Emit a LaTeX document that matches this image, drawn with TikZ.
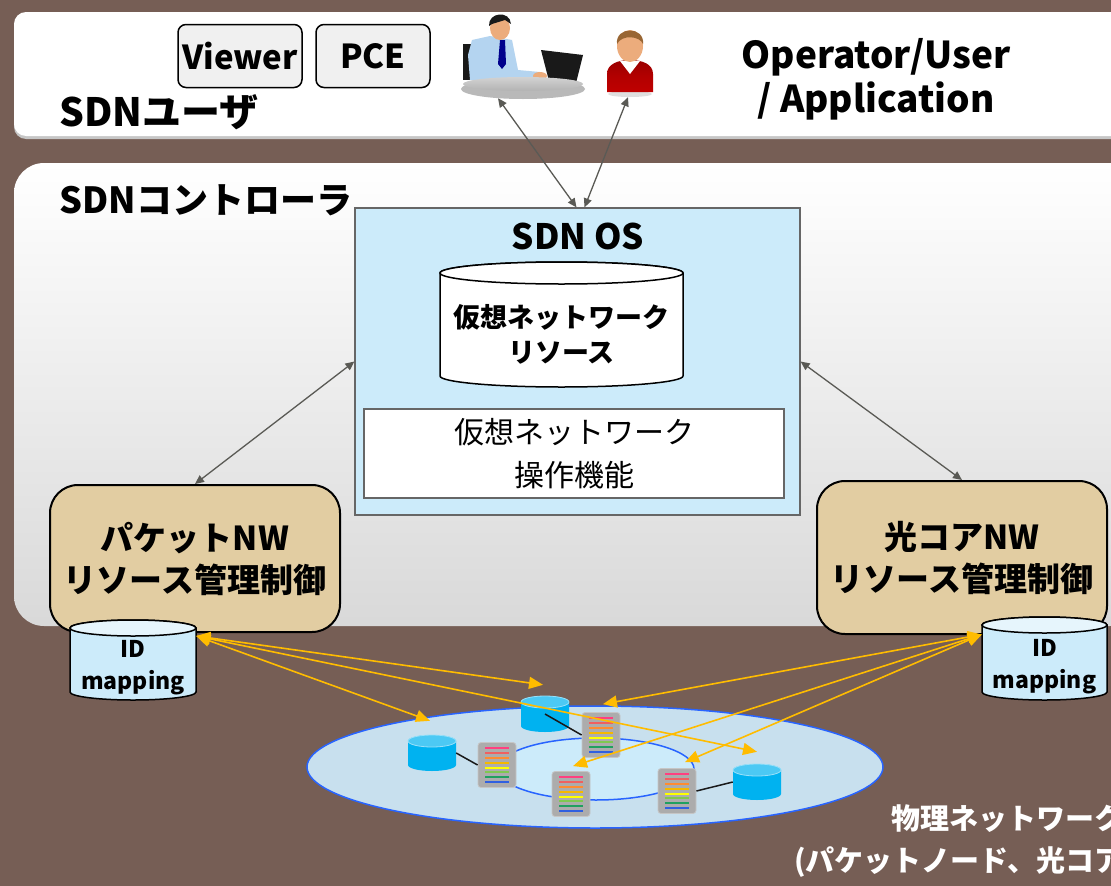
\documentclass[tikz,border=0pt]{standalone}
\usepackage{fontspec}
\setmainfont{Noto Sans CJK JP}
\usetikzlibrary{arrows.meta, positioning, calc}

\definecolor{bgbrown}{RGB}{118,94,85}
\definecolor{osblue}{RGB}{204,235,250}
\definecolor{ctltan}{RGB}{226,205,162}
\definecolor{dbblue}{RGB}{0,178,240}
\definecolor{linkgray}{RGB}{90,90,85}
\definecolor{nworange}{RGB}{255,188,0}
\definecolor{netblue}{RGB}{40,100,255}
\definecolor{netfill}{RGB}{200,224,238}
\definecolor{skin}{RGB}{236,172,124}
\definecolor{shirt}{RGB}{180,212,240}
\definecolor{rkpink}{RGB}{255,64,128}
\definecolor{rkred}{RGB}{240,96,96}
\definecolor{rkorange}{RGB}{255,140,48}
\definecolor{rkgold}{RGB}{245,184,0}
\definecolor{rkyellow}{RGB}{255,255,0}
\definecolor{rklime}{RGB}{128,200,80}
\definecolor{rkgreen}{RGB}{32,160,96}
\definecolor{rkblue}{RGB}{48,96,224}

% drum outline around a named node: node, half width, half height, cap radius, style
\newcommand\drawdrum[5]{%
  \path[#5] ([shift={(-#2,-#3+#4)}]#1.center) -- ([shift={(-#2,#3-#4)}]#1.center)
    arc[start angle=180, end angle=0, x radius=#2, y radius=#4]
    -- ([shift={(#2,-#3+#4)}]#1.center)
    arc[start angle=0, end angle=-180, x radius=#2, y radius=#4] -- cycle;
  \path[#5, #5 cap] ([shift={(0,-#3+#4)}]#1.center) ellipse (#2 and #4);
}

\tikzset{
  rack/.pic={
    \node[draw=gray!45, line width=0.8, fill=gray!65, rounded corners=3, minimum width=38, minimum height=45] (-box) {};
    \foreach \c [count=\i] in {rkpink,rkred,rkorange,rkgold,rkyellow,rklime,rkgreen,rkblue}
      \draw[\c, line width=2] (-12,-22+\i*4.9) -- (12,-22+\i*4.9);
  }
}

\begin{document}
\begin{tikzpicture}[x=1pt, y=-1pt,
    btnbox/.style={draw, line width=1.5, rounded corners=8, fill=gray!12,
      minimum height=63, font=\bfseries\fontsize{33}{36}\selectfont},
    ctlbox/.style={draw, line width=2, rounded corners=28, fill=ctltan,
      minimum width=290, align=center, font=\bfseries\fontsize{33}{42}\selectfont},
    drumbox/.style={inner sep=0pt, draw=none},
    iddrum/.style={draw, line width=1.5, fill=osblue},
    iddrum cap/.style={fill=osblue!50!white},
    resdrum/.style={draw, line width=1.5, fill=white},
    resdrum cap/.style={},
    dbdrum/.style={fill=dbblue},
    dbdrum cap/.style={fill=dbblue!70!white, draw=dbblue!40!white, line width=0.8},
    idtext/.style={align=center, font=\bfseries\fontsize{23}{32}\selectfont},
    ctllink/.style={{Triangle[length=9pt,width=8pt]}-{Triangle[length=9pt,width=8pt]},
      draw=linkgray, line width=1.3},
    nwlink/.style={{Triangle[length=14pt,width=12pt]}-{Triangle[length=14pt,width=12pt]},
      draw=nworange, line width=1.6}]

  \useasboundingbox (0,0) rectangle (1111,886);
  \clip (0,0) rectangle (1111,886);
  \fill[bgbrown] (0,0) rectangle (1111,886);

  % layers
  \fill[gray!45, rounded corners=12] (14,14) rectangle (1140,139);
  \fill[white, rounded corners=12] (14,12) rectangle (1140,136);
  \shade[top color=white, bottom color=gray!30, rounded corners=30] (14,163) rectangle (1140,626);

  % SDN user layer
  \node[anchor=west, font=\bfseries\fontsize{39}{40}\selectfont] (userlbl) at (56,112) {SDNユーザ};
  \node[btnbox, minimum width=124] (viewer) at (240,56) {Viewer};
  \node[btnbox, minimum width=114] (pce) at (373,56) {PCE};
  \node[align=center, font=\bfseries\fontsize{37}{44}\selectfont] (opuser) at (876,79)
    {Operator/User\\/ Application};

  % operator at desk
  \node[minimum width=124, minimum height=82] (deskman) at (523,57) {};
  \fill[gray!20!black] (463,44) rectangle (471,80);
  \fill[shirt] (472,40) -- (490,36) -- (512,40) -- (518,70) -- (540,72) -- (544,80)
    -- (500,82) -- (470,80) -- (468,55) -- cycle;
  \fill[blue!55!black] (500,40) -- (505,40) -- (506,64) -- (502,69) -- (498,64) -- cycle;
  \fill[skin] (500,28) ellipse (10 and 12);
  \fill[gray!20!black] (489,26) .. controls (488,12) and (510,10) .. (511,24) -- (505,20) -- (492,24) -- cycle;
  \fill[skin] (540,76) ellipse (7 and 4);
  \fill[gray!20!black] (541,50) -- (583,55) -- (576,83) -- (549,81) -- cycle;
  \fill[gray!55] (523,89) ellipse (62 and 10);
  \shade[top color=gray!35, bottom color=gray!60] (523,84) ellipse (60 and 7);

  % end user
  \node[minimum width=52, minimum height=70] (enduser) at (630,62) {};
  \fill[gray!25] (630,94) ellipse (22 and 3);
  \shade[top color=red!60!black, bottom color=red!75!black, middle color=red!70!black]
    (607,92) -- (607,74) .. controls (607,64) and (618,60) .. (630,60)
    .. controls (642,60) and (653,64) .. (653,74) -- (653,92) -- cycle;
  \fill[white] (620,61) -- (630,74) -- (640,61) -- cycle;
  \fill[skin] (630,46) ellipse (13 and 16);
  \fill[brown!80!black] (617,44) .. controls (615,26) and (645,26) .. (643,44)
    .. controls (640,36) and (622,34) .. (617,44) -- cycle;

  % SDN controller layer
  \node[anchor=west, font=\bfseries\fontsize{36}{40}\selectfont] (ctllbl) at (56,200) {SDNコントローラ};
  \node[draw=gray!80!black, line width=1.2, fill=osblue, minimum width=445, minimum height=307] (sdnos) at (577.5,361.5) {};
  \node[font=\bfseries\fontsize{35}{36}\selectfont] (ostitle) at (578,236) {SDN OS};
  \node[drumbox, minimum width=243, minimum height=125] (vnres) at (561.5,324.5) {};
  \drawdrum{vnres}{121.5}{62.5}{11}{resdrum}
  \node[align=center, font=\bfseries\fontsize{27}{35}\selectfont] at ([yshift=-10pt]vnres.center)
    {仮想ネットワーク\\リソース};
  \node[draw=gray!80!black, line width=1.2, fill=white, minimum width=420, minimum height=89,
    align=center, font=\fontsize{30}{43}\selectfont] (vnop) at (574,453.5)
    {仮想ネットワーク\\操作機能};

  \node[ctlbox, minimum height=147] (pktctl) at (195,558.5) {パケットNW\\リソース管理制御};
  \node[ctlbox, minimum height=153] (optctl) at (962,557.5) {光コアNW\\リソース管理制御};

  \node[drumbox, minimum width=126, minimum height=80] (pktid) at (133,660) {};
  \drawdrum{pktid}{63}{40}{8}{iddrum}
  \node[idtext] at ([yshift=-8pt]pktid.center) {ID\\mapping};
  \node[drumbox, minimum width=125, minimum height=83] (optid) at (1044.5,658.5) {};
  \drawdrum{optid}{62.5}{41.5}{8}{iddrum}
  \node[idtext] at ([yshift=-8pt]optid.center) {ID\\mapping};

  % control links
  \draw[ctllink] ([xshift=-25pt]deskman.south) -- ([xshift=-1pt]sdnos.north);
  \draw[ctllink] ([xshift=-2pt]enduser.south) -- ([xshift=7pt]sdnos.north);
  \draw[ctllink] (sdnos.west) -- (pktctl.north);
  \draw[ctllink] (sdnos.east) -- (optctl.north);

  % physical network
  \draw[netblue, line width=1.5, fill=netfill] (595,767) ellipse (288 and 61);
  \draw[netblue, line width=1.5, fill=osblue] (596,769) ellipse (98 and 31);

  \node[drumbox, minimum width=48, minimum height=36] (db1) at (545,714) {};
  \drawdrum{db1}{24}{18}{6}{dbdrum}
  \node[drumbox, minimum width=48, minimum height=36] (db2) at (432,753) {};
  \drawdrum{db2}{24}{18}{6}{dbdrum}
  \node[drumbox, minimum width=48, minimum height=36] (db3) at (757,782) {};
  \drawdrum{db3}{24}{18}{6}{dbdrum}
  \pic (rack1) at (601,735) {rack};
  \pic (rack2) at (497,765) {rack};
  \pic (rack3) at (571,794) {rack};
  \pic (rack4) at (677,791) {rack};

  \draw[gray!20!black, line width=1.5] (db1.center) -- (rack1-box.west);
  \draw[gray!20!black, line width=1.5] (db2.east) -- (rack2-box.west);
  \draw[gray!20!black, line width=1.5] (db3.west) -- (rack4-box.east);

  % ID mapping to devices
  \coordinate (pktport) at ([yshift=24pt]pktid.east);
  \coordinate (optport) at ([yshift=24pt]optid.west);
  \draw[nwlink] (pktport) -- ($(db2.north)+(-2,-14)$);
  \draw[nwlink] (pktport) -- ($(db1.north)+(-2,-11)$);
  \draw[nwlink] (pktport) -- ($(db3.north)+(0,-12)$);
  \draw[nwlink] (optport) -- ($(rack1-box.north)+(2,-8)$);
  \draw[nwlink] (optport) -- ($(rack3-box.north)+(2,-5)$);
  \draw[nwlink] (optport) -- ($(rack4-box.north)+(8,-6)$);

  \node[align=center, text=white, font=\bfseries\fontsize{29}{42}\selectfont] (phylbl) at (1007,841)
    {物理ネットワーク\\(パケットノード、光コアノード)};
\end{tikzpicture}
\end{document}
